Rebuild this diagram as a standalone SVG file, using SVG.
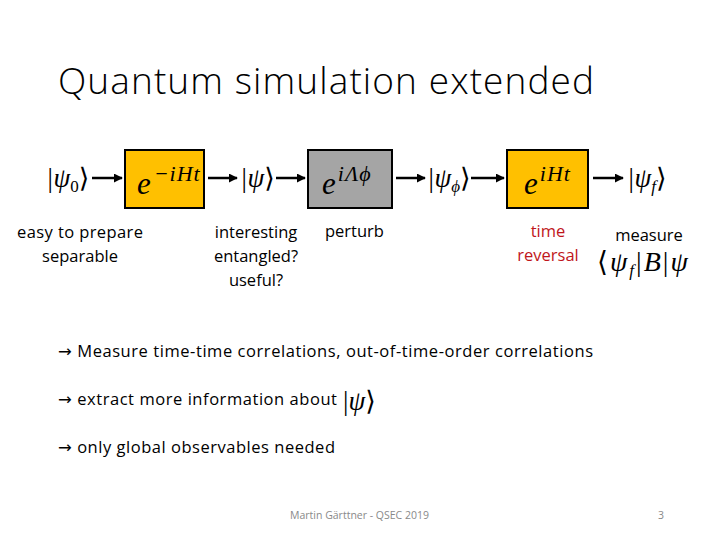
<svg xmlns="http://www.w3.org/2000/svg" width="720" height="540" viewBox="0 0 720 540">
<style>
.t{font-family:"Open Sans","Liberation Sans",sans-serif;fill:#000}
.a{font-family:"DejaVu Sans",sans-serif}
.m{font-family:"Liberation Serif","DejaVu Serif",serif;font-style:italic;fill:#000}
.box{stroke:#000;stroke-width:2}
.c{stroke:#000;stroke-width:2.5;fill:none}
</style>
<defs>
<marker id="ah" viewBox="0 0 10 10" refX="9" refY="5" markerWidth="3.6" markerHeight="3.6" orient="auto">
<path d="M0,0 L10,5 L0,10 z" fill="#000"/>
</marker>
</defs>
<rect width="720" height="540" fill="#fff"/>
<text class="t" x="58" y="94" font-size="37" font-weight="300" textLength="536">Quantum simulation extended</text>

<g id="connectors">
<line class="c" x1="92" y1="178" x2="122" y2="178" marker-end="url(#ah)"/>
<line class="c" x1="208" y1="178" x2="237" y2="178" marker-end="url(#ah)"/>
<line class="c" x1="276" y1="178" x2="305" y2="178" marker-end="url(#ah)"/>
<line class="c" x1="396" y1="178" x2="425" y2="178" marker-end="url(#ah)"/>
<line class="c" x1="471" y1="178" x2="504" y2="178" marker-end="url(#ah)"/>
<line class="c" x1="593" y1="178" x2="623" y2="178" marker-end="url(#ah)"/>
</g>

<g id="psi0">
<text class="m" x="46" y="187" font-size="27">|ψ<tspan font-size="17" dy="5" font-style="normal">0</tspan><tspan dy="-5" font-style="normal">⟩</tspan></text>
<text class="t" x="80" y="238" font-size="16.5" text-anchor="middle" textLength="126">easy to prepare</text>
<text class="t" x="80" y="262" font-size="16.5" text-anchor="middle">separable</text>
</g>

<g id="U1">
<rect class="box" x="125" y="150" width="79" height="58" fill="#FFC000"/>
<text class="m" x="137" y="194" font-size="31">e<tspan font-size="22" dx="3" dy="-13" letter-spacing="1">−iHt</tspan></text>
</g>

<g id="psi">
<text class="m" x="240" y="187" font-size="27">|ψ<tspan font-style="normal">⟩</tspan></text>
<text class="t" x="256" y="238" font-size="16.5" text-anchor="middle">interesting</text>
<text class="t" x="256" y="262" font-size="16.5" text-anchor="middle">entangled?</text>
<text class="t" x="256" y="286" font-size="16.5" text-anchor="middle">useful?</text>
</g>

<g id="U2">
<rect class="box" x="308" y="150" width="84" height="58" fill="#A5A5A5"/>
<text class="m" x="322" y="194" font-size="31">e<tspan font-size="22" dx="2" dy="-13" letter-spacing="1">iΛϕ</tspan></text>
<text class="t" x="325" y="237" font-size="16.5">perturb</text>
</g>

<g id="psiphi">
<text class="m" x="427" y="187" font-size="27">|ψ<tspan font-size="17" dy="5">ϕ</tspan><tspan dy="-5" font-style="normal">⟩</tspan></text>
</g>

<g id="U3">
<rect class="box" x="507" y="150" width="81" height="58" fill="#FFC000"/>
<text class="m" x="524" y="194" font-size="31">e<tspan font-size="22" dx="2" dy="-13" letter-spacing="1">iHt</tspan></text>
<text class="t" x="548" y="237" font-size="16.5" text-anchor="middle" style="fill:#C0161B">time</text>
<text class="t" x="548" y="261" font-size="16.5" text-anchor="middle" style="fill:#C0161B">reversal</text>
</g>

<g id="psif">
<text class="m" x="627" y="187" font-size="27">|ψ<tspan font-size="17" dy="5">f</tspan><tspan dy="-5" font-style="normal">⟩</tspan></text>
<text class="t" x="649" y="241" font-size="16.5" text-anchor="middle">measure</text>
<text class="m" x="597" y="271" font-size="28" letter-spacing="2"><tspan font-style="normal">⟨</tspan>ψ<tspan font-size="17" dy="5">f</tspan><tspan dy="-5" font-style="normal">|</tspan>B<tspan font-style="normal">|</tspan>ψ</text>
</g>

<text class="t" x="58" y="357" font-size="16.5" textLength="535"><tspan class="a">→</tspan> Measure time-time correlations, out-of-time-order correlations</text>
<text class="t" x="58" y="405" font-size="16.5" textLength="279"><tspan class="a">→</tspan> extract more information about</text>
<text class="m" x="343" y="410" font-size="27"><tspan font-style="normal">|</tspan>ψ<tspan font-style="normal">⟩</tspan></text>
<text class="t" x="58" y="453" font-size="16.5" textLength="277"><tspan class="a">→</tspan> only global observables needed</text>

<text class="t" x="290" y="519" font-size="10.5" style="fill:#898989">Martin Gärttner - QSEC 2019</text>
<text class="t" x="658" y="519" font-size="10.5" style="fill:#898989">3</text>
</svg>
